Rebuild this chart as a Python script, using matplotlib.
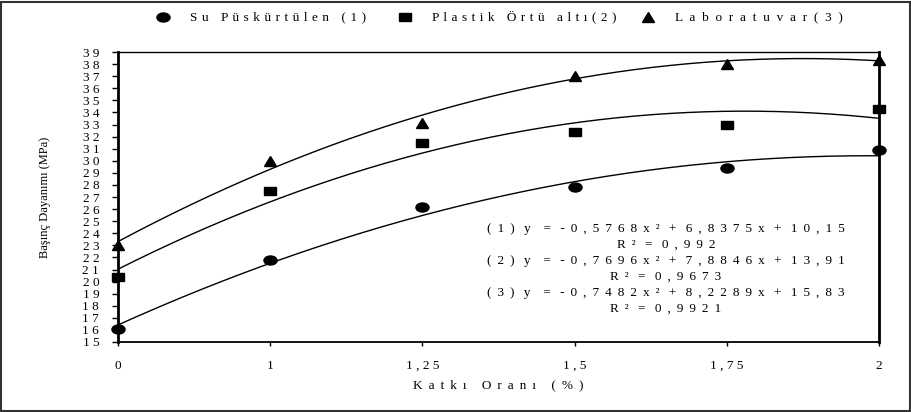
import numpy as np
import matplotlib
matplotlib.use("Agg")
import matplotlib.pyplot as plt
from matplotlib.markers import MarkerStyle
from matplotlib.transforms import Affine2D
from matplotlib.lines import Line2D
from matplotlib.patches import Rectangle

# ---------------- data ----------------
categories = ["0", "1", "1,25", "1,5", "1,75", "2"]
su_puskurtulen = [16.1, 21.8, 26.2, 27.8, 29.4, 30.9]
plastik_ortu = [20.4, 27.5, 31.5, 32.4, 33.0, 34.3]
laboratuvar = [23.0, 30.0, 33.1, 37.0, 38.0, 38.3]
series_names = ["Su Püskürtülen (1)", "Plastik Örtü altı(2)", "Laboratuvar(3)"]
coef_a = [-0.5768, -0.7696, -0.7482]
coef_b = [6.8375, 7.8846, 8.2289]
coef_c = [10.15, 13.91, 15.83]
r_squared = [0.992, 0.9673, 0.9921]
y_ticks = list(range(15, 40))
x_label = "Katkı Oranı (%)"
y_label = "Başınç Dayanımı (MPa)"

plt.rcParams["font.family"] = ["Liberation Serif", "DejaVu Serif"]

GAP = " \u2009"

def sp(s, gap=GAP):
    return gap.join(s)

def num(v):
    return str(v).replace(".", ",")

W, H = 912, 412
fig = plt.figure(figsize=(W / 100, H / 100), dpi=100)
L, R, T, B = 118, 879, 52, 342
ax = fig.add_axes([L / W, 1 - B / H, (R - L) / W, (B - T) / H])

x = np.arange(len(categories))
xf = np.linspace(0, len(categories) - 1, 300)
all_series = [su_puskurtulen, plastik_ortu, laboratuvar]

mk_circle = MarkerStyle("o", transform=Affine2D().scale(1.45, 1.0))
mk_square = MarkerStyle("s", transform=Affine2D().scale(1.5, 1.0))
mk_tri = MarkerStyle("^", transform=Affine2D().scale(1.35, 1.0))
markers = [mk_circle, mk_square, mk_tri]
msizes = [6.5, 5.8, 6.5]

for i, vals in enumerate(all_series):
    X = xf + 1
    ax.plot(xf, coef_a[i] * X ** 2 + coef_b[i] * X + coef_c[i],
            color="black", lw=1.0, zorder=2)
    ax.plot(x, vals, linestyle="none", marker=markers[i], ms=msizes[i],
            color="black", clip_on=False, zorder=3)

ax.set_xlim(0, len(categories) - 1)
ax.set_ylim(15, 39)
ax.set_yticks(y_ticks)
ax.set_yticklabels([sp(str(v), " ") for v in y_ticks], fontsize=9.5)
ax.set_xticks(x)
ax.set_xticklabels([sp(c, " ") for c in categories], fontsize=9.5)
ax.tick_params(axis="y", direction="out", length=4.5, width=1, pad=9)
ax.tick_params(axis="x", direction="out", length=3, width=1, pad=10)
ax.spines["left"].set_linewidth(2)
ax.spines["right"].set_linewidth(2)
ax.spines["top"].set_linewidth(1)
ax.spines["bottom"].set_linewidth(1.3)

# equations
eq_lines = []
for i in range(3):
    eq = "(%d)y=%sx²+%sx+%s" % (i + 1, num(coef_a[i]), num(coef_b[i]), num(coef_c[i]))
    t = sp(eq)
    for ch in ["y", "=", "+"]:
        t = t.replace(ch, " " + ch + " ")
    eq_lines.append(t)
    eq_lines.append(sp("R²=" + num(r_squared[i])).replace("=", " = "))
ys = [229, 245, 261, 277, 293, 309]
for t, yy in zip(eq_lines, ys):
    fig.text(666 / W, 1 - yy / H, t, ha="center", va="center", fontsize=9.5)

# axis labels
fig.text(498 / W, 1 - 385 / H, sp(x_label), ha="center", va="center", fontsize=9.5)
fig.text(45 / W, 1 - 197 / H, y_label, ha="center", va="center", rotation=90, fontsize=9)

# legend (manual)
leg_marker_x = [163, 405, 648]
leg_gaps = [" \u200a", " \u200a", "  "]
leg_y = 17
for i in range(3):
    fig.add_artist(Line2D([leg_marker_x[i] / W], [1 - leg_y / H], transform=fig.transFigure,
                          linestyle="none", marker=markers[i], ms=msizes[i], color="black"))
    fig.text((leg_marker_x[i] + 27) / W, 1 - leg_y / H, sp(series_names[i], leg_gaps[i]),
             ha="left", va="center", fontsize=9.5)

# outer border
fig.patches.append(Rectangle((1 / W, 1.5 / H), (W - 3) / W, (H - 3) / H,
                             transform=fig.transFigure, fill=False,
                             edgecolor="#333333", lw=1.5))

fig.savefig("out.png", dpi=100)
